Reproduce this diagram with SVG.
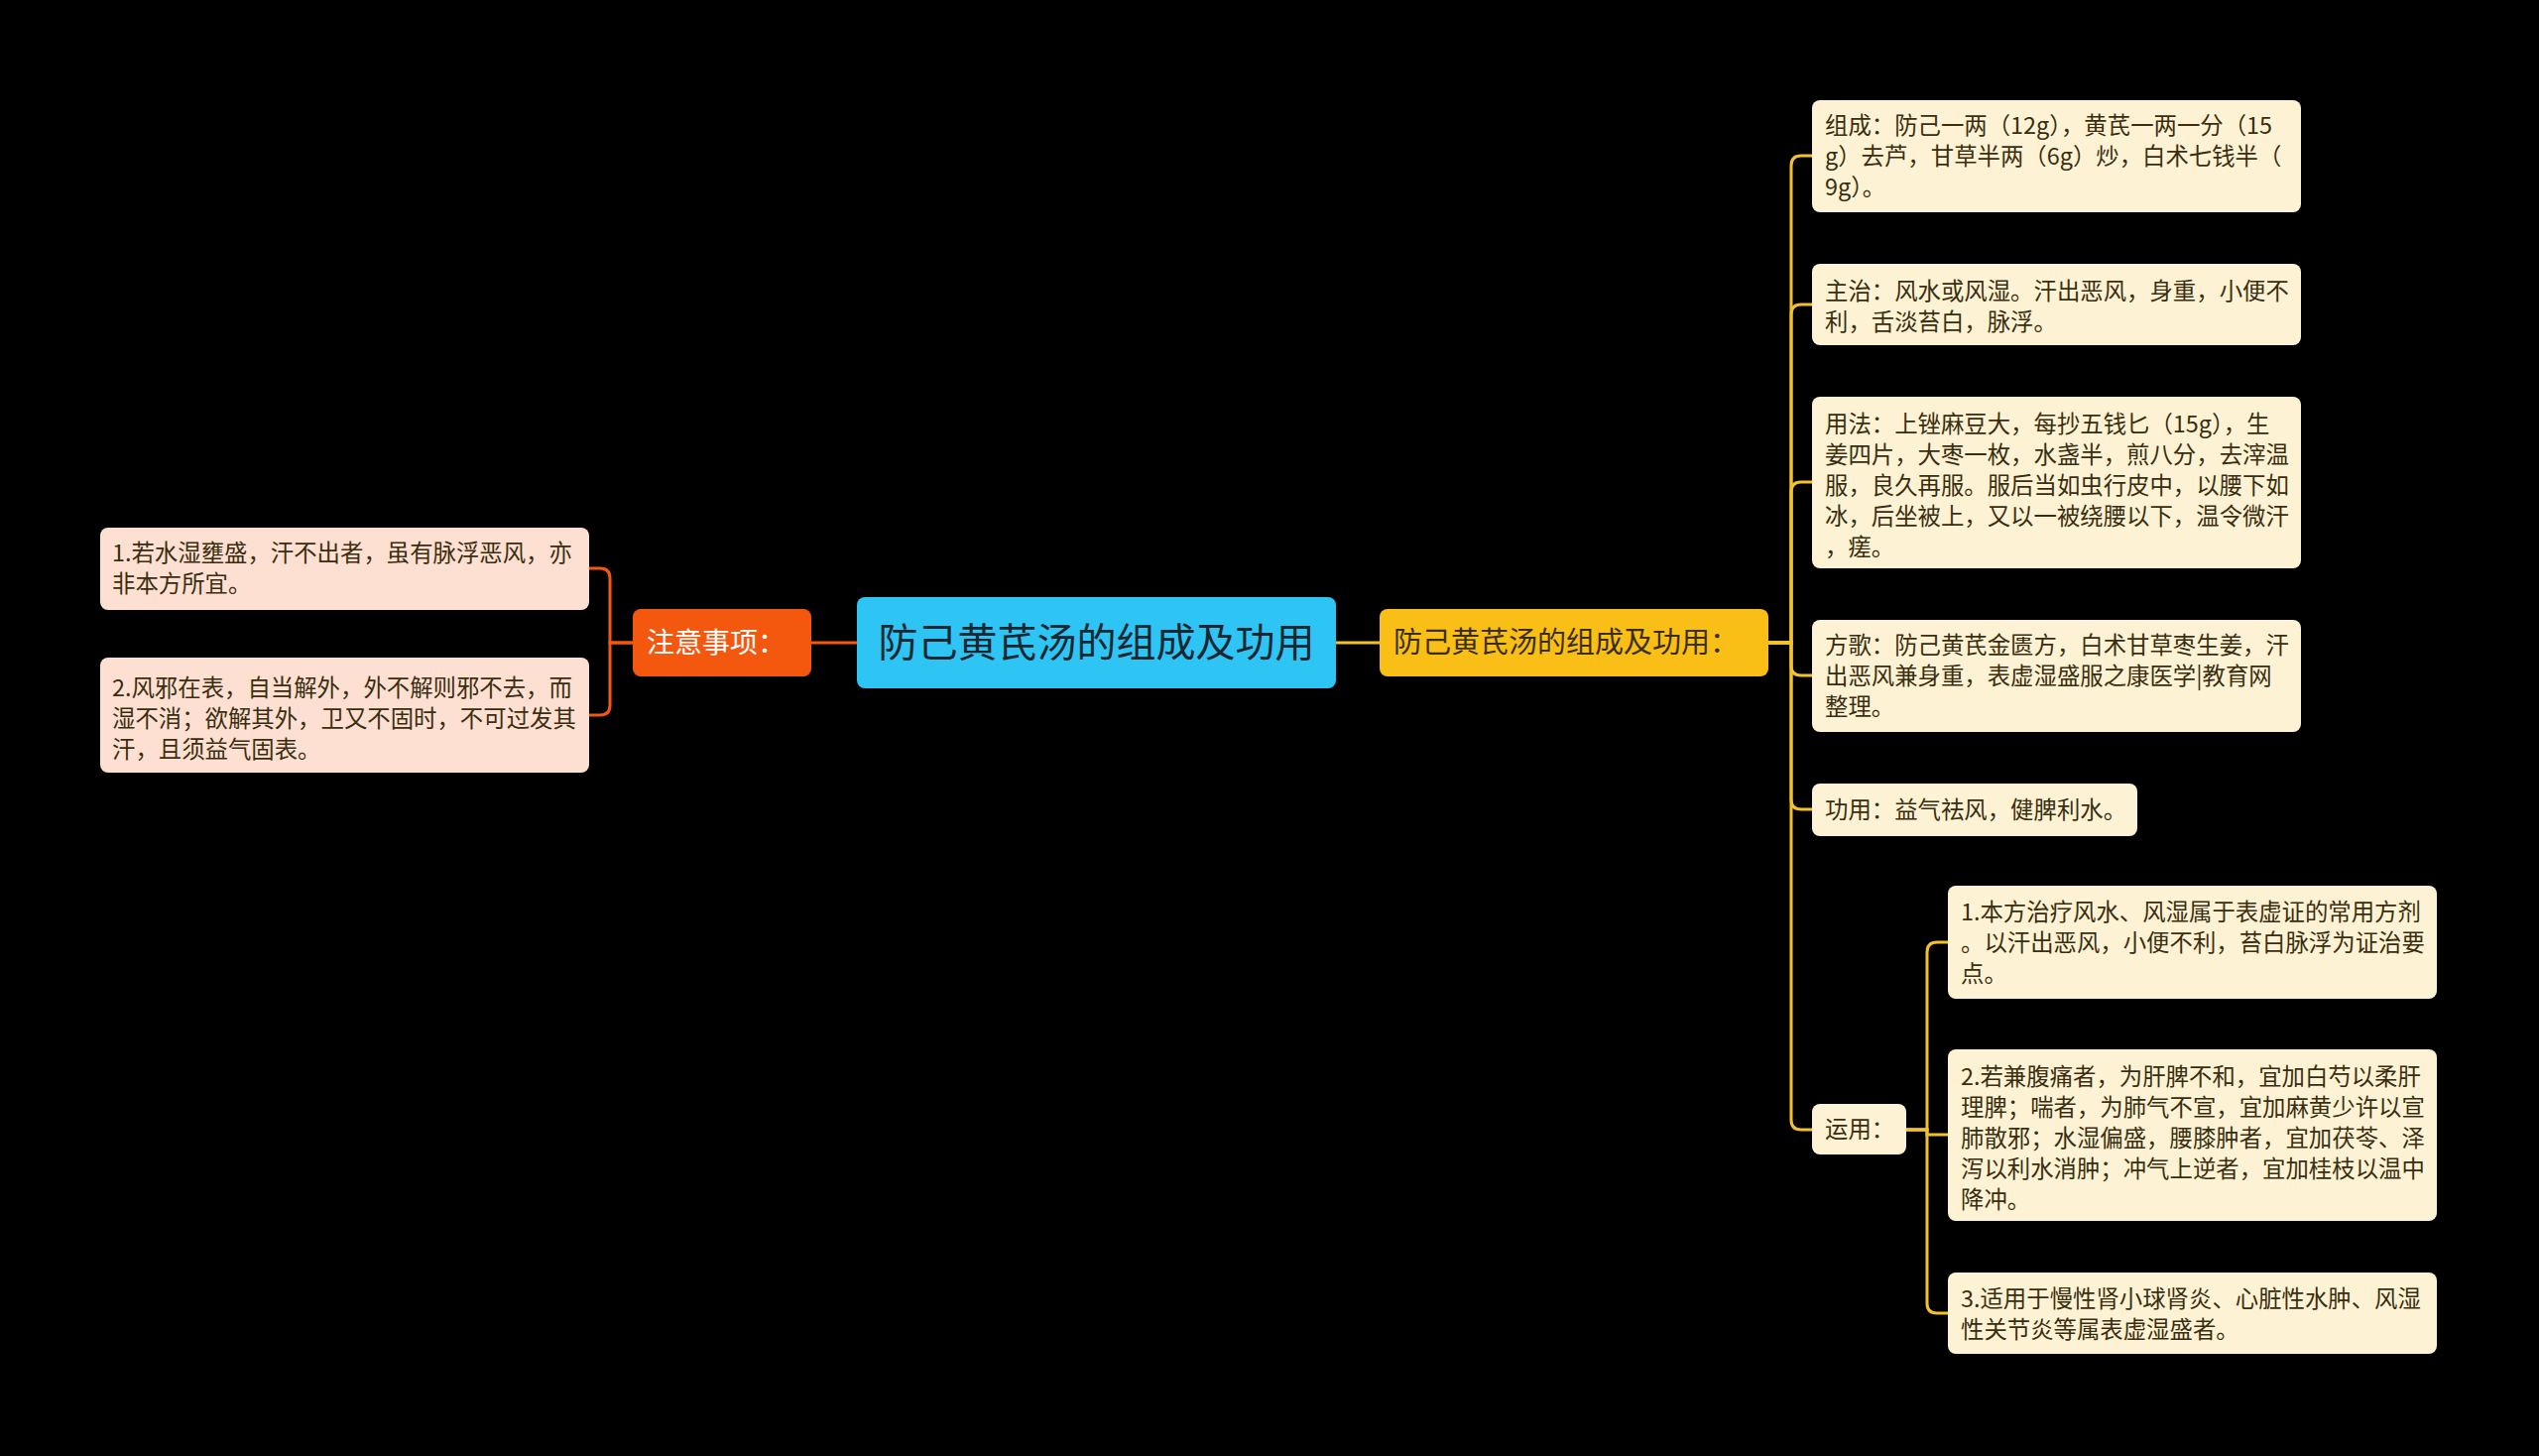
<svg xmlns="http://www.w3.org/2000/svg" width="2560" height="1468" viewBox="0 0 2560 1468">
<style>
text{font-family:"Noto Sans CJK SC","Noto Sans",sans-serif}
.lf{font-size:23.4px;fill:#3a2e10}
.cy{fill:none;stroke:#f2c12e;stroke-width:3}
.co{fill:none;stroke:#f4580f;stroke-width:3}
.cream{fill:#fdf3d4}
.peach{fill:#fde0d2}
</style>
<rect width="2560" height="1468" fill="#000"/>
<g id="connectors">
<path class="co" d="M818 648H864"/>
<path class="cy" d="M1347 648H1391"/>
<path class="co" d="M638 648H615V583Q615 573 605 573H594"/>
<path class="co" d="M638 648H615V711Q615 721 605 721H594"/>
<path class="cy" d="M1783 648H1806V167Q1806 157 1816 157H1827"/>
<path class="cy" d="M1783 648H1806V317Q1806 307 1816 307H1827"/>
<path class="cy" d="M1783 648H1806V496Q1806 486 1816 486H1827"/>
<path class="cy" d="M1783 648H1806V671Q1806 681 1816 681H1827"/>
<path class="cy" d="M1783 648H1806V806Q1806 816 1816 816H1827"/>
<path class="cy" d="M1783 648H1806V1129Q1806 1139 1816 1139H1827"/>
<path class="cy" d="M1922 1139H1943V960Q1943 950 1953 950H1964"/>
<path class="cy" d="M1922 1139H1943V1144H1964"/>
<path class="cy" d="M1922 1139H1943V1314Q1943 1324 1953 1324H1964"/>
</g>
<g id="center"><rect x="864" y="602" width="483" height="92" rx="8" fill="#2ec4f4"/><text x="1105.5" y="662" font-size="40" text-anchor="middle" fill="#1a2630">防己黄芪汤的组成及功用</text></g>
<g id="main-right"><rect x="1391" y="614" width="392" height="68" rx="8" fill="#f9bf16"/><text x="1405" y="658" font-size="29" fill="#3a2e10">防己黄芪汤的组成及功用：</text></g>
<g id="main-left"><rect x="638" y="614" width="180" height="68" rx="8" fill="#f4580f"/><text x="652" y="658" font-size="28" fill="#fff">注意事项：</text></g>
<g id="l1"><rect class="peach" x="101" y="532" width="493" height="83" rx="8"/><text class="lf" x="113"><tspan x="113" y="566">1.若水湿壅盛，汗不出者，虽有脉浮恶风，亦</tspan><tspan x="113" y="597">非本方所宜。</tspan></text></g>
<g id="l2"><rect class="peach" x="101" y="663" width="493" height="116" rx="8"/><text class="lf"><tspan x="113" y="702">2.风邪在表，自当解外，外不解则邪不去，而</tspan><tspan x="113" y="733">湿不消；欲解其外，卫又不固时，不可过发其</tspan><tspan x="113" y="764">汗，且须益气固表。</tspan></text></g>
<g id="r1"><rect class="cream" x="1827" y="101" width="493" height="113" rx="8"/><text class="lf"><tspan x="1840" y="135">组成：防己一两（12g），黄芪一两一分（15</tspan><tspan x="1840" y="166">g）去芦，甘草半两（6g）炒，白术七钱半（</tspan><tspan x="1840" y="197">9g）。</tspan></text></g>
<g id="r2"><rect class="cream" x="1827" y="266" width="493" height="82" rx="8"/><text class="lf"><tspan x="1840" y="302">主治：风水或风湿。汗出恶风，身重，小便不</tspan><tspan x="1840" y="333">利，舌淡苔白，脉浮。</tspan></text></g>
<g id="r3"><rect class="cream" x="1827" y="400" width="493" height="173" rx="8"/><text class="lf"><tspan x="1840" y="436">用法：上锉麻豆大，每抄五钱匕（15g），生</tspan><tspan x="1840" y="467">姜四片，大枣一枚，水盏半，煎八分，去滓温</tspan><tspan x="1840" y="498">服，良久再服。服后当如虫行皮中，以腰下如</tspan><tspan x="1840" y="529">冰，后坐被上，又以一被绕腰以下，温令微汗</tspan><tspan x="1840" y="560">，瘥。</tspan></text></g>
<g id="r4"><rect class="cream" x="1827" y="625" width="493" height="113" rx="8"/><text class="lf"><tspan x="1840" y="659">方歌：防己黄芪金匮方，白术甘草枣生姜，汗</tspan><tspan x="1840" y="690">出恶风兼身重，表虚湿盛服之康医学|教育网</tspan><tspan x="1840" y="721">整理。</tspan></text></g>
<g id="r5"><rect class="cream" x="1827" y="790" width="328" height="53" rx="8"/><text class="lf" x="1840" y="825">功用：益气祛风，健脾利水。</text></g>
<g id="r6"><rect class="cream" x="1827" y="1113" width="95" height="51" rx="8"/><text class="lf" x="1840" y="1147">运用：</text></g>
<g id="s1"><rect class="cream" x="1964" y="893" width="493" height="114" rx="8"/><text class="lf"><tspan x="1977" y="928">1.本方治疗风水、风湿属于表虚证的常用方剂</tspan><tspan x="1977" y="959">。以汗出恶风，小便不利，苔白脉浮为证治要</tspan><tspan x="1977" y="990">点。</tspan></text></g>
<g id="s2"><rect class="cream" x="1964" y="1058" width="493" height="173" rx="8"/><text class="lf"><tspan x="1977" y="1094">2.若兼腹痛者，为肝脾不和，宜加白芍以柔肝</tspan><tspan x="1977" y="1125">理脾；喘者，为肺气不宣，宜加麻黄少许以宣</tspan><tspan x="1977" y="1156">肺散邪；水湿偏盛，腰膝肿者，宜加茯苓、泽</tspan><tspan x="1977" y="1187">泻以利水消肿；冲气上逆者，宜加桂枝以温中</tspan><tspan x="1977" y="1218">降冲。</tspan></text></g>
<g id="s3"><rect class="cream" x="1964" y="1283" width="493" height="82" rx="8"/><text class="lf"><tspan x="1977" y="1318">3.适用于慢性肾小球肾炎、心脏性水肿、风湿</tspan><tspan x="1977" y="1349">性关节炎等属表虚湿盛者。</tspan></text></g>
</svg>
